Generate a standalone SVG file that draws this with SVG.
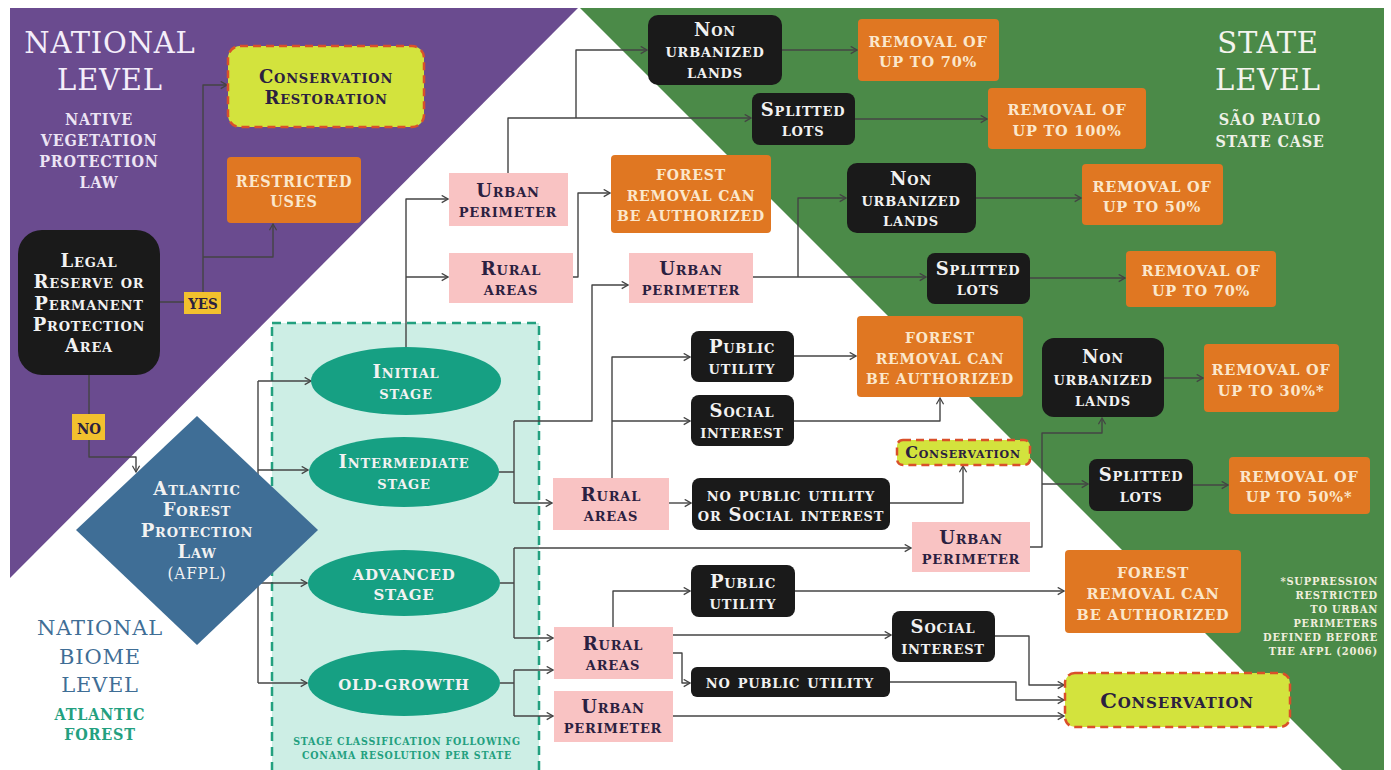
<svg xmlns="http://www.w3.org/2000/svg" width="1391" height="770" viewBox="0 0 1391 770">
<style>
.t{font-family:"DejaVu Serif Condensed","DejaVu Serif",serif;font-weight:bold;text-anchor:middle;letter-spacing:0.8px}
.sc{font-family:"DejaVu Serif",serif;font-variant:small-caps}
.ttl{font-family:"DejaVu Serif",serif;font-weight:normal}
.w{fill:#f2f2f2}
.cr{fill:#fbe7cc;font-family:"DejaVu Serif",serif}
.dk{fill:#2b2040}
.bk{fill:#1a1a1a}
.or{fill:#e07722}
.pk{fill:#f9c3c3}
.cons{fill:#d3e33d;stroke:#d9502a;stroke-width:2.5;stroke-dasharray:8 5}
.el{fill:#16a083}
.c{fill:none;stroke:#444;stroke-width:1.4;stroke-linejoin:round}
.a{marker-end:url(#ah)}
</style>
<defs>
<marker id="ah" viewBox="0 0 10 10" refX="9" refY="5" markerWidth="9" markerHeight="9" orient="auto" markerUnits="userSpaceOnUse">
<path d="M2,1 L9,5 L2,9" fill="none" stroke="#444" stroke-width="1.4"/>
</marker>
</defs>
<rect width="1391" height="770" fill="#ffffff"/>
<g id="background">
<polygon points="10,8 578,8 10,578" fill="#6a4b8f"/>
<polygon points="580,8 1384,8 1384,770 1342,770" fill="#4b8a48"/>
<rect x="272" y="323" width="267" height="452" fill="#cdeee5" stroke="#23a07f" stroke-width="2.5" stroke-dasharray="9 6"/>
</g>
<g id="titles">
<text class="t ttl" x="110" y="53" font-size="29" fill="#f4eefa">NATIONAL</text>
<text class="t ttl" x="110" y="90" font-size="29" fill="#f4eefa">LEVEL</text>
<text class="t" x="99" y="125" font-size="16" fill="#ece4f4">NATIVE</text>
<text class="t" x="99" y="146" font-size="16" fill="#ece4f4">VEGETATION</text>
<text class="t" x="99" y="167" font-size="16" fill="#ece4f4">PROTECTION</text>
<text class="t" x="99" y="188" font-size="16" fill="#ece4f4">LAW</text>
<text class="t ttl" x="1268" y="53" font-size="29" fill="#f4f4ee">STATE</text>
<text class="t ttl" x="1268" y="90" font-size="29" fill="#f4f4ee">LEVEL</text>
<text class="t" x="1270" y="125" font-size="16" fill="#eef0e6">SÃO PAULO</text>
<text class="t" x="1270" y="147" font-size="16" fill="#eef0e6">STATE CASE</text>
<text class="t ttl" x="100" y="635" font-size="21" fill="#3f6e96">NATIONAL</text>
<text class="t ttl" x="100" y="664" font-size="21" fill="#3f6e96">BIOME</text>
<text class="t ttl" x="100" y="692" font-size="21" fill="#3f6e96">LEVEL</text>
<text class="t" x="100" y="720" font-size="16" fill="#23a07f">ATLANTIC</text>
<text class="t" x="100" y="740" font-size="16" fill="#23a07f">FOREST</text>
<text class="t" x="407" y="745" font-size="10.5" fill="#23a07f">STAGE CLASSIFICATION FOLLOWING</text>
<text class="t" x="407" y="759" font-size="10.5" fill="#23a07f">CONAMA RESOLUTION PER STATE</text>
<g class="t" font-size="11" fill="#f0eedc" style="text-anchor:end">
<text x="1378" y="585">*SUPPRESSION</text>
<text x="1378" y="599">RESTRICTED</text>
<text x="1378" y="613">TO URBAN</text>
<text x="1378" y="627">PERIMETERS</text>
<text x="1378" y="641">DEFINED BEFORE</text>
<text x="1378" y="655">THE AFPL (2006)</text>
</g>
</g>
<g id="connectors">
<path class="c a" d="M160,302 H203 V85 H227"/>
<path class="c a" d="M203,257 H273 V224"/>
<path class="c a" d="M89,375 V457 H136 V472"/>
<path class="c" d="M258,381 V683"/>
<path class="c a" d="M258,381 H311"/>
<path class="c a" d="M258,470 H308"/>
<path class="c a" d="M258,583 H307"/>
<path class="c a" d="M258,683 H307"/>
<path class="c a" d="M406,347 V199 H448"/>
<path class="c a" d="M406,277 H448"/>
<path class="c a" d="M508,173 V118 H751"/>
<path class="c a" d="M576,118 V50 H647"/>
<path class="c a" d="M782,50 H857"/>
<path class="c a" d="M855,119 H987"/>
<path class="c a" d="M573,277 H578 V193 H610"/>
<path class="c" d="M499,472 H514 M514,421 V503"/>
<path class="c a" d="M514,421 H592 V285 H628"/>
<path class="c a" d="M514,503 H552"/>
<path class="c a" d="M753,277 H926"/>
<path class="c a" d="M798,277 V198 H846"/>
<path class="c a" d="M976,198 H1081"/>
<path class="c a" d="M1030,278 H1125"/>
<path class="c a" d="M612,478 V357 H690"/>
<path class="c a" d="M612,421 H690"/>
<path class="c a" d="M669,503 H691"/>
<path class="c a" d="M794,356 H856"/>
<path class="c a" d="M794,421 H940 V398"/>
<path class="c a" d="M890,503 H963 V466"/>
<path class="c" d="M500,583 H514 M514,548 V638"/>
<path class="c a" d="M514,548 H911"/>
<path class="c a" d="M514,638 H553"/>
<path class="c a" d="M1030,547 H1042 V433 H1102 V418"/>
<path class="c a" d="M1042,484 H1088"/>
<path class="c a" d="M1164,378 H1203"/>
<path class="c a" d="M1193,485 H1228"/>
<path class="c" d="M500,683 H514 M514,670 V716"/>
<path class="c a" d="M514,670 H553"/>
<path class="c a" d="M514,716 H553"/>
<path class="c a" d="M613,627 V591 H690"/>
<path class="c a" d="M673,635 H891"/>
<path class="c a" d="M673,653 H682 V683 H690"/>
<path class="c a" d="M795,591 H1064"/>
<path class="c a" d="M995,636 H1029 V685 H1064"/>
<path class="c a" d="M890,682 H1016 V700 H1064"/>
<path class="c a" d="M673,716 H1064"/>
</g>
<g id="n-cons-rest"><rect class="cons" x="228" y="46" width="196" height="81" rx="12"/><text class="t sc dk" x="326" y="83" font-size="18">Conservation</text><text class="t sc dk" x="326" y="104" font-size="18">Restoration</text></g>
<g id="n-restricted"><rect class="or" x="227" y="157" width="134" height="66" rx="4"/><text class="t" fill="#fbe7cc" x="294" y="187" font-size="16">RESTRICTED</text><text class="t" fill="#fbe7cc" x="294" y="207" font-size="16">USES</text></g>
<g id="n-legal"><rect class="bk" x="18" y="230" width="142" height="145" rx="24"/>
<text class="t sc w" x="89" y="267" font-size="18">Legal</text><text class="t sc w" x="89" y="288" font-size="18">Reserve or</text><text class="t sc w" x="89" y="310" font-size="18">Permanent</text><text class="t sc w" x="89" y="331" font-size="18">Protection</text><text class="t sc w" x="89" y="352" font-size="18">Area</text></g>
<g id="n-yes"><rect x="184" y="292" width="37" height="22" fill="#f2c12e"/><text class="t dk" x="203" y="309" font-size="15" style="letter-spacing:0">YES</text></g>
<g id="n-no"><rect x="72" y="414" width="33" height="26" fill="#f2c12e"/><text class="t dk" x="89" y="434" font-size="15" style="letter-spacing:0">NO</text></g>
<g id="n-afpl"><polygon points="197,416 318,530 197,645 76,530" fill="#3f6e96"/>
<text class="t sc w" x="197" y="495" font-size="18">Atlantic</text><text class="t sc w" x="197" y="516" font-size="18">Forest</text><text class="t sc w" x="197" y="537" font-size="18">Protection</text><text class="t sc w" x="197" y="558" font-size="18">Law</text><text class="t w" x="197" y="579" font-size="17" style="font-weight:normal">(AFPL)</text></g>
<g id="n-initial"><ellipse class="el" cx="406" cy="381" rx="95" ry="34"/><text class="t sc w" x="406" y="378" font-size="18">Initial</text><text class="t sc w" x="406" y="399" font-size="18">stage</text></g>
<g id="n-intermediate"><ellipse class="el" cx="404" cy="472" rx="95" ry="35"/><text class="t sc w" x="404" y="468" font-size="18">Intermediate</text><text class="t sc w" x="404" y="489" font-size="18">stage</text></g>
<g id="n-advanced"><ellipse class="el" cx="404" cy="583" rx="96" ry="33"/><text class="t cr" fill="#f2f2f2" style="fill:#f2f2f2" x="404" y="580" font-size="15">ADVANCED</text><text class="t cr" style="fill:#f2f2f2" x="404" y="600" font-size="15">STAGE</text></g>
<g id="n-oldgrowth"><ellipse class="el" cx="404" cy="683" rx="96" ry="33"/><text class="t cr" style="fill:#f2f2f2" x="404" y="690" font-size="15">OLD-GROWTH</text></g>
<g id="n-urban1"><rect class="pk" x="449" y="173" width="119" height="53"/><text class="t sc dk" x="508" y="197" font-size="18">Urban</text><text class="t sc dk" x="508" y="217" font-size="18">perimeter</text></g>
<g id="n-rural1"><rect class="pk" x="449" y="253" width="124" height="50"/><text class="t sc dk" x="511" y="275" font-size="18">Rural</text><text class="t sc dk" x="511" y="295" font-size="18">areas</text></g>
<g id="n-forest1"><rect class="or" x="611" y="155" width="160" height="78" rx="4"/><text class="t cr" x="691" y="180" font-size="14">FOREST</text><text class="t cr" x="691" y="201" font-size="14">REMOVAL CAN</text><text class="t cr" x="691" y="221" font-size="14">BE AUTHORIZED</text></g>
<g id="n-nonurb1"><rect class="bk" x="648" y="15" width="134" height="70" rx="10"/><text class="t sc w" x="715" y="36" font-size="18">Non</text><text class="t sc w" x="715" y="57" font-size="18">urbanized</text><text class="t sc w" x="715" y="78" font-size="18">lands</text></g>
<g id="n-rem70a"><rect class="or" x="858" y="19" width="141" height="62" rx="4"/><text class="t cr" x="928" y="47" font-size="14.5">REMOVAL OF</text><text class="t cr" x="928" y="67" font-size="14.5">UP TO 70%</text></g>
<g id="n-split1"><rect class="bk" x="752" y="93" width="103" height="52" rx="8"/><text class="t sc w" x="803" y="116" font-size="18">Splitted</text><text class="t sc w" x="803" y="136" font-size="18">lots</text></g>
<g id="n-rem100"><rect class="or" x="988" y="88" width="158" height="61" rx="4"/><text class="t cr" x="1067" y="115" font-size="14.5">REMOVAL OF</text><text class="t cr" x="1067" y="136" font-size="14.5">UP TO 100%</text></g>
<g id="n-urban2"><rect class="pk" x="629" y="253" width="124" height="50"/><text class="t sc dk" x="691" y="275" font-size="18">Urban</text><text class="t sc dk" x="691" y="295" font-size="18">perimeter</text></g>
<g id="n-nonurb2"><rect class="bk" x="847" y="163" width="129" height="70" rx="10"/><text class="t sc w" x="911" y="185" font-size="18">Non</text><text class="t sc w" x="911" y="206" font-size="18">urbanized</text><text class="t sc w" x="911" y="226" font-size="18">lands</text></g>
<g id="n-rem50a"><rect class="or" x="1082" y="164" width="141" height="61" rx="4"/><text class="t cr" x="1152" y="192" font-size="14.5">REMOVAL OF</text><text class="t cr" x="1152" y="212" font-size="14.5">UP TO 50%</text></g>
<g id="n-split2"><rect class="bk" x="927" y="253" width="103" height="51" rx="8"/><text class="t sc w" x="978" y="275" font-size="18">Splitted</text><text class="t sc w" x="978" y="295" font-size="18">lots</text></g>
<g id="n-rem70b"><rect class="or" x="1126" y="251" width="150" height="56" rx="4"/><text class="t cr" x="1201" y="276" font-size="14.5">REMOVAL OF</text><text class="t cr" x="1201" y="296" font-size="14.5">UP TO 70%</text></g>
<g id="n-rural2"><rect class="pk" x="553" y="478" width="116" height="52"/><text class="t sc dk" x="611" y="501" font-size="18">Rural</text><text class="t sc dk" x="611" y="521" font-size="18">areas</text></g>
<g id="n-public1"><rect class="bk" x="691" y="331" width="103" height="51" rx="8"/><text class="t sc w" x="742" y="353" font-size="18">Public</text><text class="t sc w" x="742" y="374" font-size="18">utility</text></g>
<g id="n-social1"><rect class="bk" x="691" y="395" width="103" height="51" rx="8"/><text class="t sc w" x="742" y="417" font-size="18">Social</text><text class="t sc w" x="742" y="438" font-size="18">interest</text></g>
<g id="n-nopub1"><rect class="bk" x="692" y="478" width="198" height="52" rx="8"/><text class="t sc w" x="791" y="501" font-size="18">no public utility</text><text class="t sc w" x="791" y="521" font-size="18">or Social interest</text></g>
<g id="n-forest2"><rect class="or" x="857" y="316" width="166" height="81" rx="4"/><text class="t cr" x="940" y="343" font-size="14">FOREST</text><text class="t cr" x="940" y="364" font-size="14">REMOVAL CAN</text><text class="t cr" x="940" y="384" font-size="14">BE AUTHORIZED</text></g>
<g id="n-cons-small"><rect class="cons" x="897" y="440" width="133" height="25" rx="6"/><text class="t sc dk" x="963" y="458" font-size="16">Conservation</text></g>
<g id="n-urban3"><rect class="pk" x="912" y="522" width="118" height="50"/><text class="t sc dk" x="971" y="544" font-size="18">Urban</text><text class="t sc dk" x="971" y="564" font-size="18">perimeter</text></g>
<g id="n-nonurb3"><rect class="bk" x="1042" y="338" width="122" height="79" rx="12"/><text class="t sc w" x="1103" y="363" font-size="18">Non</text><text class="t sc w" x="1103" y="385" font-size="18">urbanized</text><text class="t sc w" x="1103" y="406" font-size="18">lands</text></g>
<g id="n-rem30"><rect class="or" x="1204" y="344" width="135" height="68" rx="4"/><text class="t cr" x="1271" y="375" font-size="14.5">REMOVAL OF</text><text class="t cr" x="1271" y="396" font-size="14.5">UP TO 30%*</text></g>
<g id="n-split3"><rect class="bk" x="1089" y="459" width="104" height="52" rx="8"/><text class="t sc w" x="1141" y="481" font-size="18">Splitted</text><text class="t sc w" x="1141" y="502" font-size="18">lots</text></g>
<g id="n-rem50b"><rect class="or" x="1229" y="457" width="141" height="57" rx="4"/><text class="t cr" x="1299" y="482" font-size="14.5">REMOVAL OF</text><text class="t cr" x="1299" y="502" font-size="14.5">UP TO 50%*</text></g>
<g id="n-rural3"><rect class="pk" x="554" y="627" width="119" height="52"/><text class="t sc dk" x="613" y="650" font-size="18">Rural</text><text class="t sc dk" x="613" y="670" font-size="18">areas</text></g>
<g id="n-urban4"><rect class="pk" x="554" y="691" width="119" height="51"/><text class="t sc dk" x="613" y="713" font-size="18">Urban</text><text class="t sc dk" x="613" y="733" font-size="18">perimeter</text></g>
<g id="n-public2"><rect class="bk" x="691" y="565" width="104" height="52" rx="8"/><text class="t sc w" x="743" y="588" font-size="18">Public</text><text class="t sc w" x="743" y="609" font-size="18">utility</text></g>
<g id="n-social2"><rect class="bk" x="892" y="611" width="103" height="51" rx="8"/><text class="t sc w" x="943" y="633" font-size="18">Social</text><text class="t sc w" x="943" y="654" font-size="18">interest</text></g>
<g id="n-nopub2"><rect class="bk" x="691" y="667" width="199" height="30" rx="6"/><text class="t sc w" x="790" y="688" font-size="18">no public utility</text></g>
<g id="n-forest3"><rect class="or" x="1065" y="550" width="176" height="83" rx="4"/><text class="t cr" x="1153" y="578" font-size="14.5">FOREST</text><text class="t cr" x="1153" y="599" font-size="14.5">REMOVAL CAN</text><text class="t cr" x="1153" y="620" font-size="14.5">BE AUTHORIZED</text></g>
<g id="n-cons-big"><rect class="cons" x="1065" y="673" width="225" height="54" rx="10"/><text class="t sc dk" x="1177" y="708" font-size="21">Conservation</text></g>
</svg>
